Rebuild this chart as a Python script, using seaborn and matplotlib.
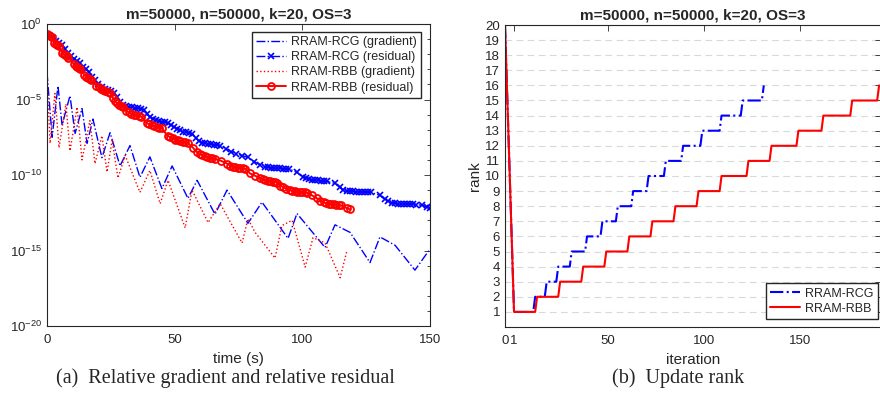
import numpy as np
import pandas as pd
import matplotlib
matplotlib.use("Agg")
import matplotlib.pyplot as plt
import seaborn as sns
from matplotlib.ticker import FixedLocator, NullFormatter

# (a) relative gradient / residual vs time, values stored as log10
rcg_grad_t = [0, 2.0, 4.3, 5.9, 9.0, 11.0, 13.7, 15.7, 18.0, 21.5, 24.7, 28.6, 32.5, 36.4,
              40.3, 45.0, 49.0, 55.2, 58.8, 65.8, 70.5, 78.7, 84.2, 94.4, 97.9, 108.9,
              112.8, 118.7, 126.5, 130.4, 136.3, 144.1, 150.0]
rcg_grad_e = [-3.2, -7.5, -4.1, -6.7, -4.75, -7.25, -5.6, -7.9, -6.3, -8.85, -7.2, -9.4, -8.05,
              -10.15, -8.8, -10.9, -9.4, -11.55, -10.35, -12.6, -11.0, -13.2, -11.8, -14.2,
              -12.55, -14.8, -13.3, -13.8, -15.8, -14.1, -14.65, -16.3, -14.9]

rbb_grad_t = [0, 1.2, 3.1, 4.7, 7.4, 9.0, 11.8, 13.7, 16.8, 18.8, 21.5, 23.5, 25.5, 27.8,
              30.6, 36.4, 40.3, 44.3, 47.4, 54.1, 56.8, 63.1, 67.8, 76.4, 78.7, 81.5,
              89.3, 92.0, 96.0, 101.1, 104.2, 108.9, 114.8, 117.5]
rbb_grad_e = [-3.4, -7.9, -4.6, -8.2, -5.3, -8.4, -5.5, -9.0, -6.4, -9.25, -7.4, -9.8, -7.7,
              -10.2, -8.7, -11.15, -9.7, -11.9, -10.35, -13.5, -11.0, -13.15, -11.9, -14.5,
              -12.9, -13.8, -15.5, -13.35, -13.0, -16.1, -14.15, -14.5, -16.8, -15.0]

rcg_res_t = [0, 1.2, 2.4, 3.5, 4.7, 5.9, 7.1, 8.2, 9.4, 10.6, 11.8, 12.9, 14.1, 15.3, 16.5,
             17.6, 18.8, 20.0, 21.5, 22.7, 23.9, 25.1, 26.2, 27.4, 28.6, 29.8, 30.9, 32.1,
             33.3, 34.5, 35.6, 36.8, 38.0, 39.2, 40.3, 41.5, 42.7, 43.9, 45.0, 46.2, 47.4,
             48.6, 49.7, 50.9, 52.1, 53.3, 54.4, 55.6, 56.8, 58.4, 59.5, 60.7, 61.9, 63.1,
             64.2, 65.4, 66.6, 67.8, 70.1, 72.1, 74.0, 76.4, 78.7, 81.1, 83.4, 85.4, 86.6,
             87.7, 88.9, 90.1, 91.3, 92.4, 93.6, 94.8, 97.9, 100.3, 101.4, 102.6, 103.8,
             105.0, 106.1, 107.3, 108.5, 109.7, 112.8, 114.8, 115.9, 117.5, 118.7, 119.9,
             121.0, 122.2, 123.4, 124.6, 125.7, 126.9, 130.4, 132.4, 133.6, 135.1, 136.3,
             137.5, 138.7, 139.8, 141.0, 142.2, 143.4, 144.5, 146.9, 148.8, 150.0]
rcg_res_e = [-0.66, -0.79, -0.92, -1.12, -1.25, -1.39, -1.65, -1.91, -2.11, -2.31, -2.44,
             -2.57, -2.84, -2.97, -3.17, -3.50, -3.70, -3.96, -4.16, -4.29, -4.36, -4.42,
             -4.55, -4.82, -5.15, -5.35, -5.41, -5.48, -5.52, -5.55, -5.59, -5.62, -5.68,
             -5.94, -6.14, -6.27, -6.34, -6.40, -6.47, -6.51, -6.55, -6.67, -6.80, -6.93,
             -7.00, -7.13, -7.17, -7.20, -7.26, -7.52, -7.72, -7.85, -7.90, -7.93, -7.96,
             -7.99, -8.02, -8.05, -8.25, -8.45, -8.58, -8.71, -8.84, -9.11, -9.31, -9.44,
             -9.48, -9.51, -9.53, -9.55, -9.56, -9.57, -9.58, -9.59, -9.83, -10.16, -10.23,
             -10.28, -10.31, -10.34, -10.36, -10.38, -10.41, -10.43, -10.56, -10.82, -11.02,
             -11.06, -11.08, -11.09, -11.10, -11.11, -11.12, -11.13, -11.14, -11.15, -11.35,
             -11.62, -11.75, -11.86, -11.88, -11.89, -11.90, -11.91, -11.92, -11.94, -11.95,
             -11.96, -12.0, -12.14, -12.2]

rbb_res_t = [0, 0.6, 1.2, 1.8, 2.8, 3.4, 4.0, 4.6, 6.0, 6.6, 7.2, 7.8, 8.4, 10.6, 11.2,
             11.8, 12.4, 13.0, 14.6, 15.3, 16.0, 16.7, 17.4, 19.3, 20.2, 21.1, 22.0, 22.9,
             23.8, 24.7, 25.8, 26.6, 27.4, 28.2, 29.0, 29.8, 31.0, 32.0, 33.0, 34.0, 35.0,
             36.0, 37.0, 39.0, 40.0, 41.0, 42.0, 43.0, 44.0, 45.0, 47.2, 48.2, 49.2, 50.2,
             51.2, 52.2, 53.2, 54.2, 55.2, 57.2, 58.8, 59.8, 60.8, 61.8, 62.8, 63.8, 64.8,
             65.8, 68.0, 70.5, 71.7, 72.7, 73.7, 74.7, 75.7, 76.7, 77.7, 79.5, 81.5, 83.4,
             84.4, 85.4, 86.4, 87.4, 88.4, 89.4, 90.2, 91.3, 92.5, 93.7, 95.0, 96.0, 97.0,
             98.0, 99.0, 100.0, 101.0, 101.8, 103.8, 105.8, 107.0, 108.3, 109.3, 110.3,
             111.3, 112.3, 113.3, 114.3, 115.0, 117.5, 118.7]
rbb_res_e = [-0.65, -0.72, -0.8, -0.88, -1.25, -1.32, -1.4, -1.48, -1.9, -2.0, -2.08, -2.15,
             -2.22, -2.68, -2.78, -2.86, -2.93, -3.0, -3.35, -3.48, -3.58, -3.66, -3.73,
             -4.08, -4.2, -4.3, -4.38, -4.45, -4.5, -4.55, -4.9, -5.1, -5.25, -5.35, -5.42,
             -5.48, -5.75, -5.85, -5.93, -6.0, -6.05, -6.1, -6.13, -6.55, -6.65, -6.72,
             -6.78, -6.82, -6.86, -6.9, -7.4, -7.5, -7.58, -7.65, -7.7, -7.75, -7.8, -7.84,
             -7.88, -8.2, -8.5, -8.6, -8.68, -8.75, -8.8, -8.85, -8.9, -8.93, -9.05, -9.24,
             -9.38, -9.44, -9.48, -9.52, -9.54, -9.56, -9.58, -9.9, -10.05, -10.2, -10.27,
             -10.33, -10.38, -10.42, -10.45, -10.48, -10.5, -10.7, -10.8, -10.9, -11.0,
             -11.04, -11.07, -11.1, -11.12, -11.14, -11.15, -11.16, -11.35, -11.55, -11.7,
             -11.82, -11.86, -11.9, -11.93, -11.95, -11.97, -11.99, -12.0, -12.2, -12.28]

# (b) rank updates: iteration where the rank goes up
rank_start = 20
rank_min = 1
rcg_rank_iter = [12, 18, 24, 31, 39, 47, 55, 63, 71, 80, 89, 99, 109, 120, 131]
rbb_rank_iter = [13, 25, 37, 49, 61, 73, 85, 97, 109, 123, 135, 149, 162, 177, 191]

title = "m=50000, n=50000, k=20, OS=3"


def rank_path(change_iter):
    # rank per iteration: 20 at it 0, 1 at it 1, +1 at each change point
    it = [0, 1]
    rk = [rank_start, rank_min]
    r = rank_min
    for c in change_iter:
        it += [c - 1, c]
        rk += [r, r + 1]
        r += 1
    return pd.DataFrame({"iteration": it, "rank": rk})


sns.set_style("white")
plt.rcParams["font.family"] = ["Liberation Sans", "DejaVu Sans"]
plt.rcParams["mathtext.fontset"] = "custom"
plt.rcParams["mathtext.rm"] = "Liberation Sans"
plt.rcParams["mathtext.it"] = "Liberation Sans:italic"

dark = "0.15"
blue = (0, 0, 1)
red = (1, 0, 0)

fig = plt.figure(figsize=(8.8, 4.0), dpi=100)
ax1 = fig.add_axes([47 / 880, 74 / 400, 383 / 880, 302 / 400])
ax2 = fig.add_axes([505 / 880, 73 / 400, 376 / 880, 302 / 400])

# ---- (a) ----
sns.lineplot(x=rcg_grad_t, y=10 ** np.array(rcg_grad_e), ax=ax1, color=blue, lw=1.0,
             linestyle="-.", sort=False, estimator=None, label="RRAM-RCG (gradient)")
sns.lineplot(x=rcg_res_t, y=10 ** np.array(rcg_res_e), ax=ax1, color=blue, lw=1.0,
             linestyle="-.", marker="x", ms=4, mew=1.2, mec=blue, sort=False,
             estimator=None, label="RRAM-RCG (residual)")
sns.lineplot(x=rbb_grad_t, y=10 ** np.array(rbb_grad_e), ax=ax1, color=red, lw=1.0,
             linestyle=":", sort=False, estimator=None, label="RRAM-RBB (gradient)")
sns.lineplot(x=rbb_res_t, y=10 ** np.array(rbb_res_e), ax=ax1, color=red, lw=1.4,
             linestyle="-", marker="o", ms=5, mew=1.3, mec=red, mfc="none", sort=False,
             estimator=None, label="RRAM-RBB (residual)")

ax1.set_yscale("log")
ax1.set_xlim(0, 150)
ax1.set_ylim(1e-20, 1e0)
ax1.set_xticks([0, 50, 100, 150])
ax1.yaxis.set_major_locator(FixedLocator([10.0 ** p for p in range(-20, 1, 5)]))
ax1.yaxis.set_minor_locator(FixedLocator([10.0 ** p for p in range(-20, 1)]))
ax1.yaxis.set_minor_formatter(NullFormatter())
ax1.set_xlabel("time (s)", fontsize=11, color=dark, labelpad=4)
ax1.set_ylabel("")
ax1.set_title(title, fontsize=11, fontweight="bold", pad=4)
ax1.legend(loc="upper right", bbox_to_anchor=(0.977, 0.974), borderaxespad=0,
           fontsize=9, frameon=True, fancybox=False, framealpha=1, edgecolor=dark,
           handlelength=2.4, labelspacing=0.25, borderpad=0.35, handletextpad=0.4)

# ---- (b) ----
rcg_df = rank_path(rcg_rank_iter)
rbb_df = rank_path(rbb_rank_iter)
sns.lineplot(data=rcg_df, x="iteration", y="rank", ax=ax2, color=blue, lw=1.5,
             linestyle="-.", sort=False, estimator=None, label="RRAM-RCG")
sns.lineplot(data=rbb_df, x="iteration", y="rank", ax=ax2, color=red, lw=1.5,
             linestyle="-", sort=False, estimator=None, label="RRAM-RBB")

k0 = 4.7  # stretched first unit of the iteration axis


def fwd(x):
    x = np.asarray(x, dtype=float)
    return np.where(x < 1, k0 * x, x + k0 - 1)


def inv(y):
    y = np.asarray(y, dtype=float)
    return np.where(y < k0, y / k0, y - k0 + 1)


ax2.set_xscale("function", functions=(fwd, inv))
ax2.set_xlim(0, 192)
ax2.set_ylim(0, 20)
ax2.set_xticks([0, 1, 50, 100, 150])
ax2.set_xticklabels(["0", "1", "50", "100", "150"])
ax2.set_yticks(range(1, 21))
ax2.yaxis.grid(True, color="0.85", linestyle=(0, (6, 4)), lw=0.8)
ax2.set_axisbelow(True)
ax2.set_xlabel("iteration", fontsize=11, color=dark, labelpad=4)
ax2.set_ylabel("rank", fontsize=11, color=dark, labelpad=2)
ax2.set_title(title, fontsize=11, fontweight="bold", pad=4)
ax2.legend(loc="lower right", bbox_to_anchor=(0.992, 0.026), borderaxespad=0,
           fontsize=9, frameon=True, fancybox=False, framealpha=1, edgecolor=dark,
           handlelength=2.4, labelspacing=0.25, borderpad=0.35, handletextpad=0.4)

for ax in (ax1, ax2):
    for s in ax.spines.values():
        s.set_color(dark)
        s.set_linewidth(0.8)
    ax.tick_params(which="both", direction="in", top=True, right=True, colors=dark,
                   labelsize=9.5, width=0.6)
    ax.tick_params(which="major", length=4)
    ax.tick_params(which="minor", length=2.5)
    ax.tick_params(axis="x", pad=6)

fig.text(225 / 880, 1 - 378 / 400, "(a)  Relative gradient and relative residual",
         ha="center", va="center", fontsize=14.5, family="Liberation Serif")
fig.text(678 / 880, 1 - 378 / 400, "(b)  Update rank",
         ha="center", va="center", fontsize=14.5, family="Liberation Serif")

fig.savefig("out.png", dpi=100)
